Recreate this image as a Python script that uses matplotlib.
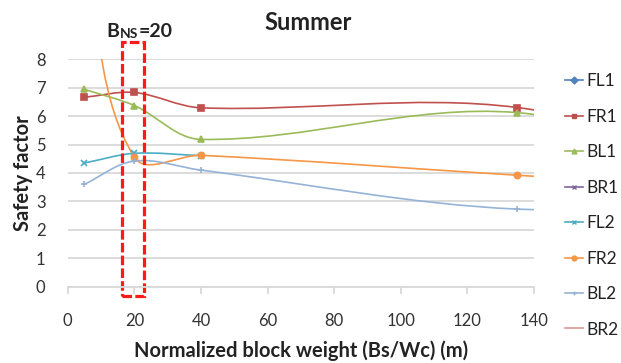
import numpy as np
import matplotlib
matplotlib.use("Agg")
import matplotlib.pyplot as plt
from matplotlib.path import Path
from matplotlib.patches import PathPatch, Rectangle
from matplotlib.lines import Line2D

plt.rcParams["font.family"] = ["Lato", "DejaVu Sans"]

# ── data ──────────────────────────────────────────────────────────────────────
x_pts = [5, 20, 40, 135]
x_hidden = 220          # last point sits beyond the 140 axis max (lines run off the edge)

fr1 = [6.66, 6.83, 6.29, 6.30]
fr1_hidden = 3.6
bl1 = [6.94, 6.37, 5.18, 6.12]
bl1_hidden = 3.4
fl2 = [4.35, 4.69, 4.61]
fr2 = [11.2, 4.56, 4.62, 3.92]
fr2_hidden = 3.32
bl2 = [3.60, 4.42, 4.10, 2.73]
bl2_hidden = 3.2

SERIES = [
    # label, color, marker, x, y
    ("FL1", "#4F81BD", "D", [], []),
    ("FR1", "#C0504D", "s", x_pts + [x_hidden], fr1 + [fr1_hidden]),
    ("BL1", "#9BBB59", "^", x_pts + [x_hidden], bl1 + [bl1_hidden]),
    ("BR1", "#8064A2", "x", [], []),
    ("FL2", "#4BACC6", "x", x_pts[:3], fl2),
    ("FR2", "#F79646", "o", x_pts + [x_hidden], fr2 + [fr2_hidden]),
    ("BL2", "#95B3D7", "+", x_pts + [x_hidden], bl2 + [bl2_hidden]),
    ("BR2", "#D99694", None, [], []),
]

K = 8.56  # y-unit / x-unit pixel ratio, so tangents are worked out in screen space


def smooth_path(xs, ys):
    # Excel-style "smoothed line": cubic Bezier through every point
    q = np.column_stack([np.asarray(xs, float), np.asarray(ys, float) * K])
    n = len(q)
    tang = np.empty_like(q)
    for i in range(n):
        d = q[min(i + 1, n - 1)] - q[max(i - 1, 0)]
        tang[i] = d / np.hypot(*d)
    verts, codes = [q[0]], [Path.MOVETO]
    for i in range(n - 1):
        L = np.hypot(*(q[i + 1] - q[i])) / 3
        verts += [q[i] + tang[i] * L, q[i + 1] - tang[i + 1] * L, q[i + 1]]
        codes += [Path.CURVE4] * 3
    v = np.array(verts)
    v[:, 1] /= K
    return Path(v, codes)


fig = plt.figure(figsize=(6.21, 3.63), dpi=100)
ax = fig.add_axes([0.109, 0.210, 0.751, 0.627])

handles = []
for label, color, marker, xs, ys in SERIES:
    if len(xs) > 1:
        ax.add_patch(PathPatch(smooth_path(xs, ys), fill=False, edgecolor=color, lw=1.2))
        vis = [(a, b) for a, b in zip(xs, ys) if a <= 140]
        ax.plot([a for a, _ in vis], [b for _, b in vis], linestyle="none", marker=marker,
                color=color, markersize=4.5, markeredgewidth=1.2)
    handles.append(Line2D([], [], color=color, lw=1.2, marker=marker, markersize=3.5,
                          markeredgewidth=1.0, label=label))

ax.set_xlim(0, 140)
ax.set_ylim(0, 8)
ax.set_xticks(range(0, 141, 20))
ax.set_yticks(range(0, 9))
ax.grid(axis="y", color="#d9d9d9", linewidth=1.3)
ax.set_axisbelow(True)
for s in ["left", "right", "top"]:
    ax.spines[s].set_visible(False)
ax.spines["bottom"].set_color("#d9d9d9")
ax.spines["bottom"].set_linewidth(1.3)
ax.tick_params(axis="x", colors="#d9d9d9", length=5, width=1.3, labelcolor="#333333",
               labelsize=12, pad=14)
ax.tick_params(axis="y", length=0, labelcolor="#333333", labelsize=12, pad=16)

ax.set_xlabel("Normalized block weight (Bs/Wc) (m)", fontsize=14.5, fontweight="bold",
              color="#222222", labelpad=8)
ax.set_ylabel("Safety factor", fontsize=14.5, fontweight="bold", color="#222222", labelpad=2)
fig.text(0.496, 0.905, "Summer", ha="center", va="bottom", fontsize=17, fontweight="bold",
         color="#222222")

# highlighted block: B_NS = 20
ax.add_patch(Rectangle((16.3, -0.32), 6.7, 8.92, fill=False, edgecolor="#ff1a1a", lw=2.3,
                       linestyle=(0, (3, 1)), clip_on=False))
t1 = fig.text(0.172, 0.897, "B", fontsize=14, fontweight="bold", color="#222222")
t2 = ax.annotate("NS", xy=(1, 0), xycoords=t1, va="bottom", fontsize=10, fontweight="bold",
                 color="#222222", annotation_clip=False)
ax.annotate("=20", xy=(1, 0), xycoords=t2, va="bottom", fontsize=14, fontweight="bold",
            color="#222222", annotation_clip=False)

fig.legend(handles=handles, loc="center left", bbox_to_anchor=(0.885, 0.434), frameon=False,
           fontsize=12.5, handlelength=1.0, handletextpad=0.2, labelspacing=1.12,
           labelcolor="#222222")

fig.savefig("out.png", dpi=100)
